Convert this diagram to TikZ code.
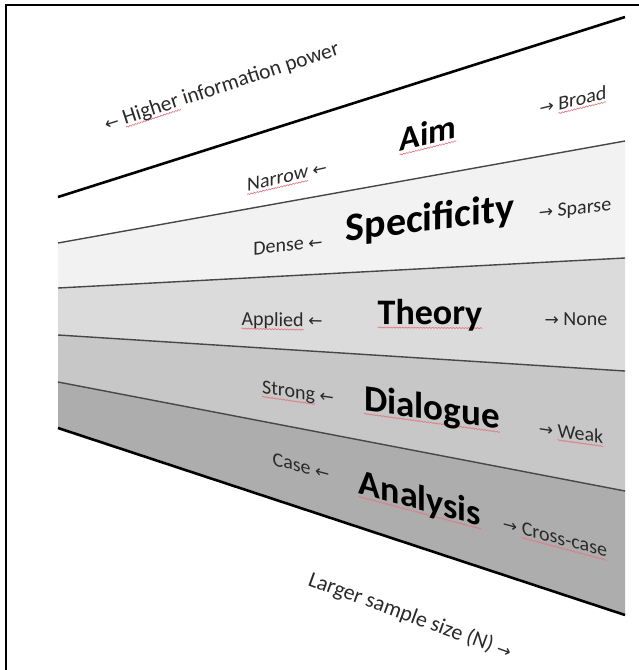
\documentclass[tikz,border=0pt]{standalone}
\usepackage{fontspec}
\usetikzlibrary{decorations.pathmorphing}
\setmainfont{Carlito}
\newfontfamily\arrowfont{DejaVu Sans}
\newcommand{\myla}{{\arrowfont\fontsize{17}{20}\selectfont ←}}
\newcommand{\myra}{{\arrowfont\fontsize{17}{20}\selectfont →}}
\definecolor{bandA}{HTML}{FFFFFF}
\definecolor{bandB}{HTML}{F2F2F2}
\definecolor{bandC}{HTML}{DBDBDB}
\definecolor{bandD}{HTML}{C7C7C7}
\definecolor{bandE}{HTML}{ADADAD}
\definecolor{inkgray}{HTML}{2A2A2A}
\definecolor{spellred}{HTML}{E07A86}
\tikzset{squig/.style={draw=spellred, line width=0.7pt, decorate,
  decoration={snake, amplitude=0.55pt, segment length=3pt}}}
% word with a wavy spell-check underline
\newcommand{\sq}[1]{\setbox0\hbox{#1}\rlap{\tikz[overlay,x=1pt,y=1pt]\draw[squig] (0,-3) -- (\wd0,-3);}\box0\relax}
\begin{document}
\begin{tikzpicture}[x=1pt,y=-1pt,
  lab/.style={inner sep=0pt, text=inkgray, font=\fontsize{20}{24}\selectfont},
  ttl/.style={inner sep=0pt, text=black, font=\bfseries\fontsize{36}{42}\selectfont},
  outer/.style={line width=2.6pt, black},
  sep/.style={line width=1.4pt, draw=black!72},
  frame/.style={line width=2pt, black}]
\useasboundingbox (0,0) rectangle (639,670);
\fill[white] (0,0) rectangle (639,670);

% band edges: left ends and right ends of the six lines
\coordinate (l1) at (58,197);  \coordinate (r1) at (625,17);
\coordinate (l2) at (58,243);  \coordinate (r2) at (625,141);
\coordinate (l3) at (58,288);  \coordinate (r3) at (625,258);
\coordinate (l4) at (58,335);  \coordinate (r4) at (625,371);
\coordinate (l5) at (58,382);  \coordinate (r5) at (625,491);
\coordinate (l6) at (58,428);  \coordinate (r6) at (625,615);

% shaded bands
\fill[bandA] (l1) -- (r1) -- (r2) -- (l2) -- cycle;
\fill[bandB] (l2) -- (r2) -- (r3) -- (l3) -- cycle;
\fill[bandC] (l3) -- (r3) -- (r4) -- (l4) -- cycle;
\fill[bandD] (l4) -- (r4) -- (r5) -- (l5) -- cycle;
\fill[bandE] (l5) -- (r5) -- (r6) -- (l6) -- cycle;

% dividing lines
\draw[sep] (l2) -- (r2);
\draw[sep] (l3) -- (r3);
\draw[sep] (l4) -- (r4);
\draw[sep] (l5) -- (r5);
\draw[outer] (l1) -- (r1);
\draw[outer] (l6) -- (r6);

% frame (top and left sides)
\coordinate (ftl) at (6,5);
\coordinate (ftr) at (639,5);
\coordinate (fbl) at (6,670);
\draw[frame] (ftr) -- (ftl) -- (fbl);

% axis captions
\node[lab, rotate=18, font=\fontsize{21.5}{25}\selectfont] (hip) at (222,87) {\myla\ \sq{Higher} information power};
\node[lab, rotate=-20, font=\fontsize{22}{26}\selectfont] (nss) at (410,616) {Larger sample size (N) \myra};

% Aim
\node[lab, yslant=0.23] (aimL) at (287,176) {\sq{Narrow} \myla};
\node[ttl, yslant=0.243, font=\bfseries\fontsize{34}{40}\selectfont] (aim) at (428,133) {\sq{Aim}};
\node[lab, yslant=0.24] (aimR) at (573,100) {\myra\ \sq{Broad}};

% Specificity
\node[lab, yslant=0.112] (speL) at (288,245) {Dense \myla};
\node[ttl, yslant=0.123, font=\bfseries\fontsize{40}{46}\selectfont] (spe) at (430,220) {Specificity};
\node[lab, yslant=0.111] (speR) at (575,210) {\myra\ Sparse};

% Theory
\node[lab, yslant=-0.02] (thL) at (282,321) {\sq{Applied} \myla};
\node[ttl, yslant=-0.007] (th) at (430,315) {\sq{Theory}};
\node[lab, yslant=-0.009] (thR) at (576,319) {\myra\ None};

% Dialogue
\node[lab, yslant=-0.144] (diL) at (298,394) {\sq{Strong} \myla};
\node[ttl, yslant=-0.136, font=\bfseries\fontsize{37}{42}\selectfont] (di) at (432,410) {\sq{Dialogue}};
\node[lab, yslant=-0.137] (diR) at (571,432) {\myra\ \sq{Weak}};

% Analysis
\node[lab, yslant=-0.258] (anL) at (301,466) {Case \myla};
\node[ttl, yslant=-0.264] (an) at (420,500) {\sq{Analysis}};
\node[lab, yslant=-0.266] (anR) at (555,537) {\myra\ \sq{Cross-case}};
\end{tikzpicture}
\end{document}
